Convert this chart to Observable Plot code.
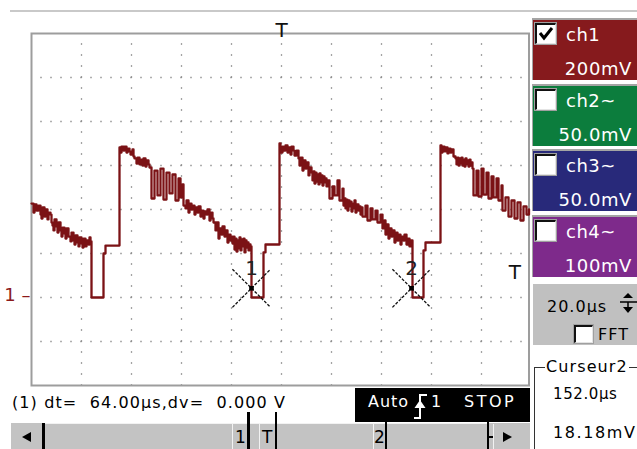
<!DOCTYPE html>
<html><head><meta charset="utf-8">
<script src="https://cdn.jsdelivr.net/npm/d3@7"></script>
<script src="https://cdn.jsdelivr.net/npm/@observablehq/plot@0.6"></script>
<style>
html,body{margin:0;padding:0;background:#fff;}
#scope{position:relative;width:637px;height:449px;overflow:hidden;font-family:"DejaVu Sans",sans-serif;background:#fff;}
.abs{position:absolute;box-sizing:border-box;}
.txt{position:absolute;white-space:pre;line-height:1;}
</style></head><body><div id="scope"></div>
<script>
// ---- data (time in µs, voltage in mV) ----
const ch1Trace = [
[0,427],[0.8,386],[1.2,423],[2.0,395],[2.8,418],[3.6,377],[4.0,359],[4.4,409],[5.2,368],[5.6,400],[6.4,355],[6.8,386],[7.6,377],[8.0,341],[8.4,327],[8.8,305],[9.2,355],[10.0,323],[10.4,295],[10.8,341],[11.6,305],[12.0,277],[12.4,318],[13.2,291],[13.6,268],[14.0,314],[14.8,277],[15.6,255],[16.0,295],[16.8,259],[17.2,241],[17.6,282],[18.4,250],[18.8,232],[19.2,273],[20.0,245],[20.4,227],[20.8,268],[21.6,232],[22.0,259],[22.8,241],[23.2,273],[23.6,255],[24.0,0],[28.8,200],[29.6,236],[35.2,682],
[35.6,659],[36.0,686],[36.8,668],[37.2,686],[38.0,659],[38.4,677],[39.2,664],[39.6,650],[40.4,673],[40.8,641],[41.2,632],[42.0,609],[42.4,636],[43.2,605],[43.6,627],[44.4,600],[44.8,632],[45.6,595],[46.0,623],[46.8,605],[47.2,591],[48.0,450],[49.2,577],[50.4,464],[51.6,586],[52.8,445],[54.0,568],[55.2,473],[56.4,559],[57.6,441],[58.8,541],[59.6,455],[60.4,514],[60.8,418],[61.6,405],[62.0,441],[62.8,386],[63.2,427],[64.0,400],[64.4,418],[65.2,377],[65.6,409],[66.4,386],[66.8,414],[67.6,368],[68.0,395],[68.8,359],[69.2,391],[70.0,377],[70.4,400],[71.2,350],[71.6,386],[72.4,359],[72.8,341],[73.6,305],[74.0,341],[74.8,268],[75.2,314],[76.0,286],[76.4,323],[77.2,277],[77.6,305],[78.4,250],[78.8,286],[79.6,259],[80.0,277],[80.4,245],[80.8,277],[81.2,218],[81.6,268],[82.0,209],[82.4,259],[82.8,223],[83.2,273],[83.6,214],[84.0,264],[84.4,232],[84.8,268],[85.2,205],[85.6,259],[86.0,227],[86.4,250],[86.8,214],[87.2,241],[87.6,232],[88.0,0],[92.8,205],[93.6,241],[99.2,700],
[99.6,659],[100.4,686],[100.8,668],[101.6,691],[102.4,659],[102.8,682],[103.6,650],[104.0,686],[104.8,668],[105.2,645],[106.0,668],[106.8,632],[107.2,600],[107.6,636],[108.4,577],[108.8,623],[109.6,586],[110.0,614],[110.8,555],[111.2,591],[112.0,568],[112.4,532],[112.8,573],[113.2,518],[113.6,568],[114.0,527],[114.4,559],[114.8,514],[115.2,564],[115.6,523],[116.0,555],[116.4,509],[116.8,550],[117.2,523],[117.6,541],[118.0,505],[118.4,532],[119.2,450],[120.4,505],[121.2,464],[122.4,532],[123.2,441],[124.4,495],[124.8,418],[125.2,450],[125.6,405],[126.0,445],[126.4,395],[126.8,441],[127.2,414],[127.6,436],[128.0,391],[128.4,427],[128.8,405],[129.2,441],[129.6,386],[130.0,423],[130.8,395],[131.2,414],[131.6,377],[132.0,409],[132.4,368],[133.6,418],[134.4,350],[135.6,405],[136.4,355],[137.6,395],[138.4,341],[139.6,377],[140.4,314],[141.2,350],[141.6,286],[142.0,332],[142.8,268],[143.2,314],[144.0,277],[144.4,305],[145.2,250],[145.6,295],[146.4,259],[146.8,286],[147.6,241],[148.0,277],[148.8,259],[149.2,286],[150.0,241],[150.4,268],[151.2,232],[151.6,259],[152.4,0],[156.8,214],[157.6,250],[163.6,691],
[164.0,659],[164.4,686],[165.2,664],[165.6,682],[166.4,655],[166.8,677],[167.6,659],[168.0,673],[168.8,641],[169.6,632],[170.0,605],[170.4,636],[170.8,600],[171.2,632],[171.6,609],[172.0,636],[172.4,600],[172.8,627],[173.2,595],[173.6,632],[174.0,605],[174.4,623],[174.8,595],[175.2,627],[175.6,600],[176.0,614],[176.4,586],[176.8,464],[178.0,577],[178.8,459],[180.0,586],[180.8,468],[182.0,568],[182.8,450],[184.0,550],[184.8,455],[186.0,541],[186.8,441],[188.0,509],[188.4,395],[189.6,455],[190.8,368],[192.0,441],[193.2,359],[194.4,432],[195.6,350],[196.8,414],[198.0,377],[199.0,400]
];
const gridTimes = [20, 40, 60, 80, 100, 120, 140, 160, 180];
const gridVolts = [-200, 0, 200, 400, 600, 800, 1000];
const cursorTimes = [88, 152];
const cursorVolts = [42, 42];
const cursorLabels = ["1", "2"];
const triggerTime = 100;
const triggerLevel = 111;
const groundLevel = 11;
const channelNames = ["ch1", "ch2~", "ch3~", "ch4~"];
const channelScales = ["200mV", "50.0mV", "50.0mV", "100mV"];
const channelColors = ["#861a1d", "#0c7d3d", "#28297a", "#7e2a8b"];
const channelChecked = [true, false, false, false];
const timebaseText = "20.0µs";
const cursorTitle = "Curseur2";
const cursorReadouts = ["152.0µs", "18.18mV"];
const measureText = "(1) dt=  64.00µs,dv=  0.000 V";
const trigWords = ["Auto", "1", "STOP"];

// ---- plot ----
const trace = ch1Trace.map(([t, v]) => ({t, v}));
const cursors = cursorTimes.map((t, i) => ({t, v: cursorVolts[i], label: cursorLabels[i]}));
const crossSymbol = {draw(ctx, size) {
  const a = Math.sqrt(size / Math.PI) / Math.SQRT2;
  ctx.moveTo(-a, -a); ctx.lineTo(a, a); ctx.moveTo(-a, a); ctx.lineTo(a, -a);
}};

const plot = Plot.plot({
  width: 637, height: 449,
  marginLeft: 31, marginRight: 108.5, marginTop: 33, marginBottom: 64,
  x: {domain: [0, 199], axis: null},
  y: {domain: [-400, 1200], axis: null},
  style: {background: "transparent", fontFamily: "DejaVu Sans", overflow: "visible"},
  marks: [
    Plot.ruleX(gridTimes, {x: d => d, stroke: "#858585", strokeWidth: 1.3, strokeDasharray: "1.3 9.7", strokeDashoffset: 0.65}),
    Plot.ruleY(gridVolts, {y: d => d, stroke: "#858585", strokeWidth: 1.3, strokeDasharray: "1.3 8.7", strokeDashoffset: 0.65}),
    Plot.frame({stroke: "#9d9d9d", strokeWidth: 2}),
    Plot.line(trace, {x: "t", y: "v", curve: "step-after", stroke: "#7b1215", strokeWidth: 2.3}),
    Plot.dot(cursors, {x: "t", y: "v", symbol: crossSymbol, r: 27, fill: "none", stroke: "#111", strokeWidth: 1.3, strokeDasharray: "3 1.5"}),
    Plot.dot(cursors, {x: "t", y: "v", symbol: "square", r: 2.6, fill: "#000", stroke: "none"}),
    Plot.text(cursors, {x: "t", y: "v", text: "label", dy: -20, fontSize: 20, fill: "#222"}),
    Plot.text([triggerTime], {x: d => d, frameAnchor: "top", dy: -10.5, text: () => "T", fontSize: 20, fill: "#111"}),
    Plot.text([triggerLevel], {y: d => d, frameAnchor: "right", dx: -8, text: () => "T", fontSize: 20, fill: "#111"}),
    Plot.text([groundLevel], {y: d => d, frameAnchor: "left", textAnchor: "end", dx: -1, text: () => "1 –", fontSize: 18, fill: "#8b1a1a"})
  ]
});
const root = document.getElementById("scope");
plot.style.position = "absolute"; plot.style.left = "0px"; plot.style.top = "0px";
root.appendChild(plot);

// ---- instrument chrome ----
function box(x, y, w, h, style = {}) {
  const d = document.createElement("div"); d.className = "abs";
  Object.assign(d.style, {left: x + "px", top: y + "px", width: w + "px", height: h + "px"}, style);
  root.appendChild(d); return d;
}
function label(str, x, yc, fs, o = {}) {
  const s = document.createElement("div"); s.className = "txt"; s.textContent = str;
  s.style.fontSize = fs + "px"; s.style.top = (yc - 0.48 * fs) + "px";
  if (o.right != null) s.style.right = o.right + "px"; else s.style.left = x + "px";
  s.style.color = o.color || "#000"; s.style.letterSpacing = (o.ls ?? 1) + "px";
  if (o.bg) { s.style.background = o.bg; s.style.padding = "0 1px"; }
  root.appendChild(s); return s;
}
function svgEl(x, y, w, h, inner) {
  const d = document.createElement("div"); d.className = "abs";
  Object.assign(d.style, {left: x + "px", top: y + "px", width: w + "px", height: h + "px"});
  d.innerHTML = `<svg width="${w}" height="${h}" style="display:block">${inner}</svg>`;
  root.appendChild(d); return d;
}
function checkbox(x, y, w, h, checked) {
  box(x - 1, y - 1, w + 2, h + 2, {background: "#a0a0a0"});
  box(x, y, w, h, {background: "#fff", borderTop: "2px solid #111", borderLeft: "2px solid #111", borderRight: "1px solid #e4e4e4", borderBottom: "1px solid #e4e4e4"});
  if (checked) svgEl(x, y, w, h, `<polyline points="5,10 9,15 17,5" fill="none" stroke="#000" stroke-width="3"/>`);
}

// top rule
box(10, 10, 627, 2, {background: "#c9c9c9"});

// channel boxes
channelNames.forEach((name, i) => {
  const top = Math.round(18 + 65.7 * i);
  box(532, top, 105, 62, {background: channelColors[i], borderTop: "2px solid #a4a4a4", borderLeft: "1px solid #a4a4a4"});
  checkbox(535, top + 5, 21, 21, channelChecked[i]);
  label(name, 566, top + 16.5, 18, {color: "#fff", ls: 0.5});
  label(channelScales[i], 0, top + 50.5, 18, {color: "#fff", ls: 0.6, right: 5});
});

// timebase panel
box(533, 284, 104, 61, {background: "#c0c0c0"});
label(timebaseText, 547, 307, 16, {ls: 1});
svgEl(619, 291, 18, 25, `<polygon points="4,7 9,2 14,7" fill="#000"/><line x1="1" y1="11" x2="18" y2="11" stroke="#000" stroke-width="1.5"/><line x1="9" y1="11" x2="9" y2="20" stroke="#000" stroke-width="1.5"/><polygon points="4,16 9,22 14,16" fill="#000"/>`);
checkbox(574, 325, 19, 18, false);
label("FFT", 598, 335, 16, {ls: 1});

// cursor group box
box(534, 367, 110, 90, {borderTop: "1px solid #333", borderLeft: "1px solid #333"});
label(cursorTitle, 545, 367, 16, {ls: 1.1, bg: "#fff"});
label(cursorReadouts[0], 553, 394, 15, {ls: 0.6});
label(cursorReadouts[1], 553, 433, 16, {ls: 1.6});

// measurement line
label(measureText, 12, 403, 16, {ls: 1.1});

// trigger status box
box(355, 388, 175, 34, {background: "#000"});
label(trigWords[0], 368, 402, 16, {color: "#fff", ls: 1});
svgEl(413, 391, 16, 30, `<polyline points="1,27 7,27 7,4 14,4" fill="none" stroke="#fff" stroke-width="2"/><polygon points="1.5,17 7,9 12.5,17" fill="#fff"/>`);
label(trigWords[1], 431, 402, 16, {color: "#fff", ls: 1});
label(trigWords[2], 464, 402, 16, {color: "#fff", ls: 2.5});

// scrollbar
box(10, 423, 520, 26, {background: "#c3c3c3", borderLeft: "1px solid #fff"});
svgEl(20, 431, 13, 12, `<polygon points="2,6 11,1 11,11" fill="#000"/>`);
box(42, 423, 3, 26, {background: "#000"});
box(45, 423, 442, 1, {background: "#f2f2f2"});
box(232, 424, 1, 25, {background: "#f2f2f2"});
box(259, 424, 1, 25, {background: "#f2f2f2"});
box(373, 424, 1, 25, {background: "#f2f2f2"});
label("1", 235, 437, 17, {ls: 0});
label("T", 262, 437, 17, {ls: 0});
label("2", 374, 437, 17, {ls: 0});
box(247, 412, 2.5, 37, {background: "#000"});
box(274.5, 412, 2.5, 37, {background: "#000"});
box(384.5, 420, 2.5, 29, {background: "#000"});
box(486.5, 420, 2, 29, {background: "#000"});
box(488, 436, 5, 1.5, {background: "#000"});
box(493, 424, 1, 25, {background: "#f2f2f2"});
svgEl(502, 431, 12, 12, `<polygon points="1,1 10,6 1,11" fill="#000"/>`);
</script></body></html>
